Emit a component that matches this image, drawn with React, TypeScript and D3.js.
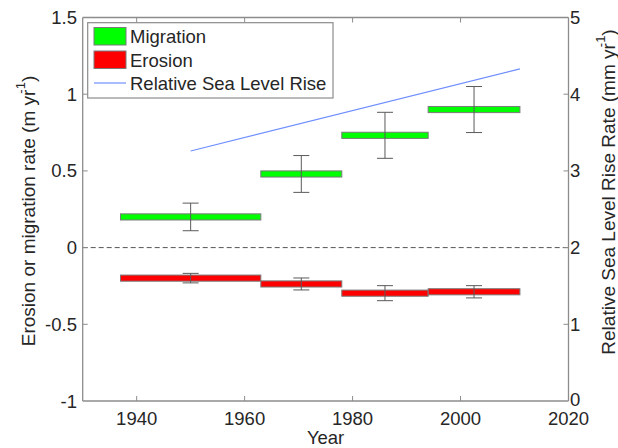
import React from "react";
import * as d3 from "d3";

const periodStart = [1937, 1963, 1978, 1994];
const periodEnd = [1963, 1978, 1994, 2011];
const migration = [0.2, 0.48, 0.732, 0.9];
const migrationErr = [0.09, 0.12, 0.15, 0.15];
const erosion = [-0.199, -0.237, -0.297, -0.288];
const erosionErr = [0.031, 0.039, 0.049, 0.04];
const slrYears = [1950, 2011];
const slrRate = [3.26, 4.33];
const xTicks = [1940, 1960, 1980, 2000, 2020];
const yLeftTicks = [-1, -0.5, 0, 0.5, 1, 1.5];
const yRightTicks = [0, 1, 2, 3, 4, 5];
const legendLabels = ["Migration", "Erosion", "Relative Sea Level Rise"];

const W = 618;
const H = 448;
const L = 82.7, R = 568.5, T = 17.5, B = 401;
const FONT = "'Liberation Sans', Arial, sans-serif";
const FS = 18.5;
const TXT = "#262626";
const AX = "#8c8c8c";

export default function App() {
  const x = d3.scaleLinear().domain([1930, 2020]).range([L, R]);
  const y = d3.scaleLinear().domain([-1, 1.5]).range([B, T]);
  const y2 = d3.scaleLinear().domain([0, 5]).range([B, T]);
  const halfH = 0.02;
  const capW = 8;
  const line = d3
    .line<number>()
    .x((_, i) => x(slrYears[i]))
    .y((d) => y2(d));

  const bars = (vals: number[], errs: number[], fill: string) =>
    vals.map((v, i) => {
      const mid = (periodStart[i] + periodEnd[i]) / 2;
      const xm = x(mid);
      return (
        <g key={fill + i}>
          <rect
            x={x(periodStart[i])}
            y={y(v + halfH)}
            width={x(periodEnd[i]) - x(periodStart[i])}
            height={y(v - halfH) - y(v + halfH)}
            fill={fill}
            stroke="#7a7a7a"
            strokeWidth={1}
          />
          <g stroke="#5a5a5a" strokeWidth={1}>
            <line x1={xm} x2={xm} y1={y(v + errs[i])} y2={y(v - errs[i])} />
            <line x1={xm - capW} x2={xm + capW} y1={y(v + errs[i])} y2={y(v + errs[i])} />
            <line x1={xm - capW} x2={xm + capW} y1={y(v - errs[i])} y2={y(v - errs[i])} />
          </g>
        </g>
      );
    });

  const fmt = (d: number) => (d === 0 ? "0" : String(d));

  return (
    <svg
      width={W}
      height={H}
      style={{ position: "absolute", left: 0, top: 0, background: "#fff" }}
      fontFamily={FONT}
    >
      <rect x={0} y={0} width={W} height={H} fill="#fff" />
      <line x1={L} x2={R} y1={y(0)} y2={y(0)} stroke="#555" strokeDasharray="5,3" strokeWidth={1} />
      {bars(migration, migrationErr, "#00ff00")}
      {bars(erosion, erosionErr, "#ff0000")}
      <path d={line(slrRate) || ""} fill="none" stroke="#6f8fff" strokeWidth={1.2} />

      <g stroke={AX} strokeWidth={1.3} fill="none">
        <line x1={L} x2={R} y1={B} y2={B} />
        <line x1={L} x2={R} y1={T} y2={T} />
        <line x1={L} x2={L} y1={T} y2={B} />
        <line x1={R} x2={R} y1={T} y2={B} />
      </g>
      {xTicks.map((t) => (
        <g key={"xt" + t}>
          {t < 2020 && (
            <>
              <line x1={x(t)} x2={x(t)} y1={B} y2={B - 5} stroke={AX} />
              <line x1={x(t)} x2={x(t)} y1={T} y2={T + 5} stroke={AX} />
            </>
          )}
          <text x={x(t)} y={418} textAnchor="middle" dominantBaseline="central" fontSize={FS} fill={TXT}>
            {t}
          </text>
        </g>
      ))}
      {yLeftTicks.map((t) => (
        <g key={"yl" + t}>
          {t > -1 && t < 1.5 && <line x1={L} x2={L + 5} y1={y(t)} y2={y(t)} stroke={AX} />}
          <text x={77} y={y(t)} textAnchor="end" dominantBaseline="central" fontSize={FS} fill={TXT}>
            {fmt(t)}
          </text>
        </g>
      ))}
      {yRightTicks.map((t) => (
        <g key={"yr" + t}>
          {t > 0 && t < 5 && <line x1={R} x2={R - 5} y1={y2(t)} y2={y2(t)} stroke={AX} />}
          <text
            x={570}
            y={t === 0 ? y2(t) - 2 : y2(t)}
            textAnchor="start"
            dominantBaseline="central"
            fontSize={FS}
            fill={TXT}
          >
            {t}
          </text>
        </g>
      ))}
      <text x={(L + R) / 2} y={437} textAnchor="middle" dominantBaseline="central" fontSize={FS} fill={TXT}>
        Year
      </text>
      <text
        transform={`translate(28, 211) rotate(-90)`}
        textAnchor="middle"
        dominantBaseline="central"
        fontSize={19}
        fill={TXT}
      >
        Erosion or migration rate (m yr
        <tspan fontSize={13} dy={-8} dx={-4}>-1</tspan>
        <tspan dy={8}>)</tspan>
      </text>
      <text
        transform={`translate(608, 192) rotate(-90)`}
        textAnchor="middle"
        dominantBaseline="central"
        fontSize={19}
        fill={TXT}
      >
        Relative Sea Level Rise Rate (mm yr
        <tspan fontSize={13} dy={-8} dx={-4}>-1</tspan>
        <tspan dy={8}>)</tspan>
      </text>

      <rect x={87.7} y={22.7} width={245.3} height={75.3} fill="#fff" stroke="#8c8c8c" strokeWidth={1.2} />
      <rect x={94} y={27.5} width={32} height={17.5} fill="#00ff00" stroke="#7a7a7a" />
      <rect x={94} y={51} width={32} height={17.5} fill="#ff0000" stroke="#7a7a7a" />
      <line x1={94} x2={126} y1={83} y2={83} stroke="#6f8fff" strokeWidth={1.2} />
      {legendLabels.map((lab, i) => (
        <text key={lab} x={130} y={36.5 + i * 23.5} dominantBaseline="central" fontSize={FS} fill={TXT}>
          {lab}
        </text>
      ))}
    </svg>
  );
}
